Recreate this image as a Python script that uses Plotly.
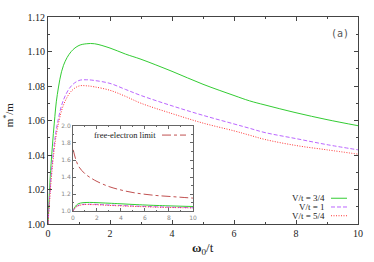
import plotly.graph_objects as go

# ---- data ----
omega = [0, 0.05, 0.1, 0.2, 0.3, 0.5, 0.75, 1.0, 1.25, 1.5, 2.0, 2.5, 3.0, 4.0, 5.0, 6.0, 6.5, 7.0, 8.0, 9.0, 10.0]
m_v34 = [1.000, 1.020, 1.035, 1.058, 1.075, 1.092, 1.100, 1.1035, 1.1045, 1.1045, 1.102, 1.0985, 1.0955, 1.0885, 1.081, 1.0745, 1.0714, 1.069, 1.0645, 1.0605, 1.057]
m_v1 = [1.000, 1.015, 1.028, 1.046, 1.058, 1.072, 1.080, 1.0832, 1.0836, 1.0832, 1.0815, 1.078, 1.0745, 1.0685, 1.063, 1.058, 1.0555, 1.053, 1.0495, 1.046, 1.043]
m_v54 = [1.000, 1.013, 1.025, 1.043, 1.055, 1.069, 1.077, 1.0800, 1.0801, 1.0795, 1.0775, 1.074, 1.070, 1.064, 1.0585, 1.054, 1.0515, 1.049, 1.0455, 1.043, 1.0405]

omega_fe = [0.02, 0.25, 0.5, 1.0, 1.5, 2.0, 3.0, 4.0, 5.0, 6.0, 7.0, 8.0, 9.0, 10.0]
m_fe = [1.72, 1.60, 1.52, 1.44, 1.39, 1.35, 1.29, 1.25, 1.22, 1.20, 1.185, 1.175, 1.165, 1.155]

series_names = ["V/t = 3/4", "V/t = 1", "V/t = 5/4"]
series_vals = [m_v34, m_v1, m_v54]
colors = ["#33cc33", "#bb66ff", "#ff3333"]
dashes = ["solid", "4px,2px", "1px,1.5px"]
fe_color = "#c05050"

main_yticks = [1.00, 1.02, 1.04, 1.06, 1.08, 1.10, 1.12]
main_xticks = [0, 2, 4, 6, 8, 10]
inset_yticks = [1.0, 1.2, 1.4, 1.6, 1.8, 2.0]
inset_xticks = [0, 2, 4, 6, 8, 10]

fig = go.Figure()
for name, vals, c, d in zip(series_names, series_vals, colors, dashes):
    fig.add_trace(go.Scatter(x=omega, y=vals, mode="lines", line=dict(color=c, width=1, dash=d, shape="spline"),
                             name=name, showlegend=False, xaxis="x", yaxis="y"))
for name, vals, c, d in zip(series_names, series_vals, colors, dashes):
    fig.add_trace(go.Scatter(x=omega, y=vals, mode="lines", line=dict(color=c, width=1, dash=d, shape="spline"),
                             showlegend=False, xaxis="x2", yaxis="y2"))
fig.add_trace(go.Scatter(x=omega_fe, y=m_fe, mode="lines", line=dict(color=fe_color, width=1, dash="dashdot", shape="spline"),
                         showlegend=False, xaxis="x2", yaxis="y2"))

axcol = "#444444"
serif = "Liberation Serif"
fig.update_layout(
    width=374, height=262,
    margin=dict(l=48, r=16, t=11, b=38),
    paper_bgcolor="white", plot_bgcolor="white",
    xaxis=dict(domain=[0, 1], range=[0, 10], tickvals=main_xticks, ticks="inside", ticklen=4,
               showline=True, linecolor=axcol, linewidth=1, mirror="ticks", showgrid=False, zeroline=False,
               tickfont=dict(family=serif, size=10, color="#222"),
               minor=dict(dtick=1, ticks="inside", ticklen=2, tickcolor=axcol), tickcolor=axcol),
    yaxis=dict(domain=[0, 1], range=[1.0, 1.12], tickvals=main_yticks, ticktext=[f"{v:.2f}" for v in main_yticks],
               ticks="inside", ticklen=4, showline=True, linecolor=axcol, linewidth=1, mirror="ticks",
               showgrid=False, zeroline=False, tickfont=dict(family=serif, size=10, color="#222"),
               minor=dict(dtick=0.01, ticks="inside", ticklen=2, tickcolor=axcol), tickcolor=axcol),
    xaxis2=dict(domain=[0.0806, 0.4677], anchor="y2", range=[0, 10], tickvals=inset_xticks, ticks="inside",
                ticklen=3, showline=True, linecolor="#666", linewidth=1, mirror="ticks", showgrid=False,
                zeroline=False, tickfont=dict(family="DejaVu Sans", size=6, color="#888"), tickcolor="#666",
                minor=dict(dtick=1, ticks="inside", ticklen=1.5, tickcolor="#666")),
    yaxis2=dict(domain=[0.061, 0.474], anchor="x2", range=[1.0, 2.0], tickvals=inset_yticks,
                ticktext=[f"{v:.1f}" for v in inset_yticks], ticks="inside", ticklen=3, showline=True,
                linecolor="#666", linewidth=1, mirror="ticks", showgrid=False, zeroline=False,
                tickfont=dict(family="DejaVu Sans", size=6, color="#888"), tickcolor="#666",
                minor=dict(dtick=0.1, ticks="inside", ticklen=1.5, tickcolor="#666")),
)

ann = []
# axis titles
ann.append(dict(text="<b>ω</b><sub>0</sub>/t", x=0.5, y=(224 - 249) / 213, xref="paper", yref="paper",
                xanchor="center", yanchor="middle",
                showarrow=False, font=dict(family=serif, size=13, color="#222")))
ann.append(dict(text="m<sup>*</sup>/m", x=(9 - 48) / 310, y=(224 - 112) / 213, xref="paper", yref="paper",
                textangle=-90, xanchor="center", yanchor="middle",
                showarrow=False, font=dict(family=serif, size=11, color="#222")))
ann.append(dict(text="(a)", x=(340 - 48) / 310, y=(224 - 28) / 213, xref="paper", yref="paper", showarrow=False,
                xanchor="center", yanchor="middle",
                font=dict(family="DejaVu Sans Mono", size=10, color="#555")))
# main legend (text, sample on right)
leg_y = [(224 - 197.5) / 213, (224 - 206.5) / 213, (224 - 215.5) / 213]
shapes = []
for name, c, d, ly in zip(series_names, colors, dashes, leg_y):
    ann.append(dict(text=name, x=(326 - 48) / 310, y=ly, xref="paper", yref="paper", xanchor="right",
                    yanchor="middle", showarrow=False, borderpad=0,
                    font=dict(family=serif, size=9, color="#222")))
    shapes.append(dict(type="line", xref="paper", yref="paper", x0=(331 - 48) / 310, x1=(347 - 48) / 310,
                       y0=ly, y1=ly, line=dict(color=c, width=1, dash=d)))
# inset legend
ann.append(dict(text="free-electron limit", x=(158 - 48) / 310, y=(224 - 132.5) / 213, xref="paper", yref="paper",
                xanchor="right", yanchor="middle", showarrow=False, font=dict(family=serif, size=8.5, color="#222")))
shapes.append(dict(type="line", xref="paper", yref="paper", x0=(162 - 48) / 310, x1=(186 - 48) / 310,
                   y0=(224 - 132.5) / 213, y1=(224 - 132.5) / 213, line=dict(color=fe_color, width=1, dash="dashdot")))
fig.update_layout(annotations=ann, shapes=shapes)

fig.write_html("out.html", config={"displayModeBar": False},
               post_script="document.body.style.margin='0';document.body.style.overflow='hidden';")
